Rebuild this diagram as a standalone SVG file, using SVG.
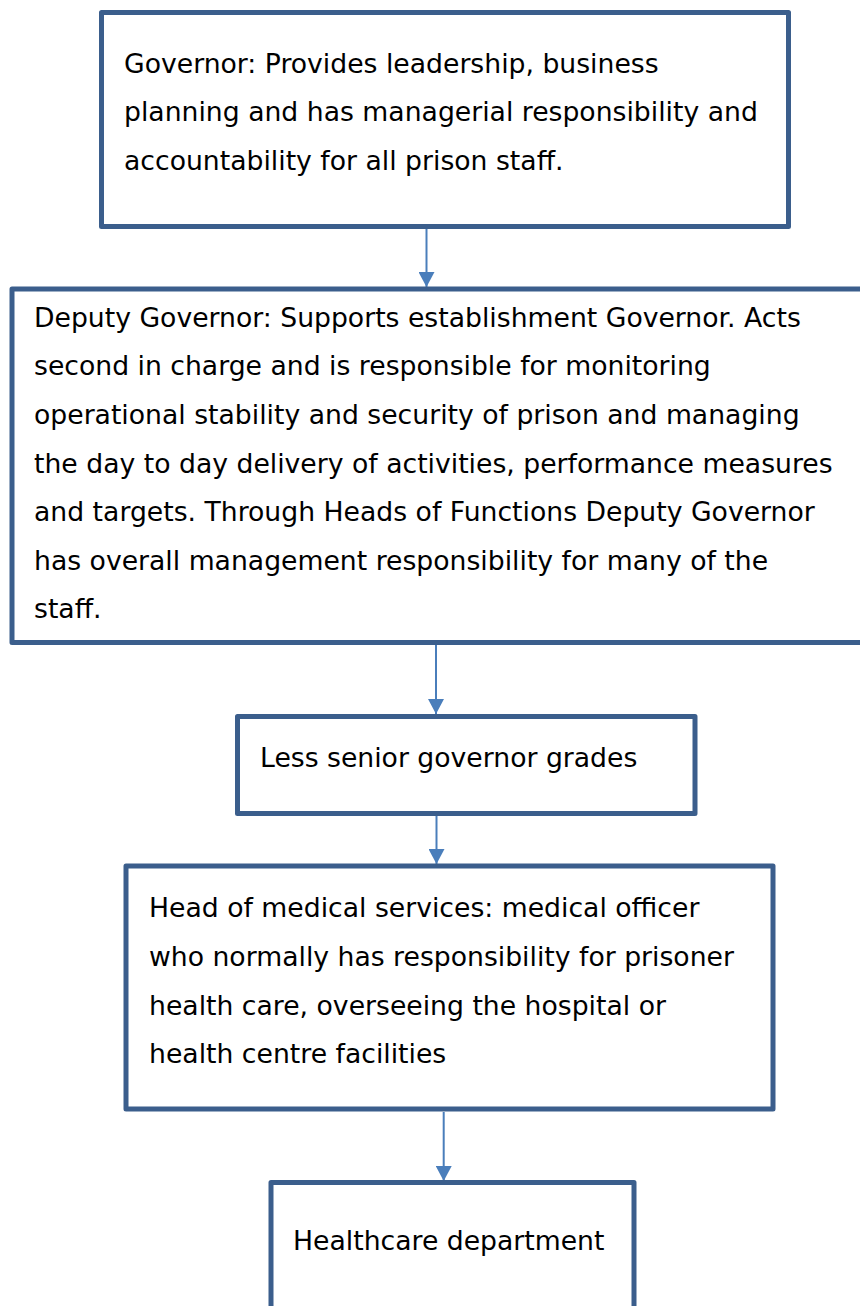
<svg xmlns="http://www.w3.org/2000/svg" width="860" height="1306" viewBox="0 0 860 1306">
<style>
.box{fill:#fff;stroke:#3B5E8C;stroke-width:5;stroke-linejoin:round}
.t{font-family:"DejaVu Sans",Verdana,sans-serif;font-size:26.67px;fill:#000}
.c{stroke:#4A7EBB;stroke-width:2;fill:none}
</style>
<defs>
<marker id="ah" markerUnits="userSpaceOnUse" markerWidth="15" markerHeight="16" refX="15" refY="8" orient="auto" viewBox="0 0 15 16">
<path d="M0,0 L15,8 L0,16 Z" fill="#4A7EBB"/>
</marker>
</defs>
<rect width="860" height="1306" fill="#fff"/>
<g id="connectors">
<line class="c" x1="426.5" y1="229" x2="426.5" y2="287" marker-end="url(#ah)"/>
<line class="c" x1="436" y1="645" x2="436" y2="714" marker-end="url(#ah)"/>
<line class="c" x1="436.5" y1="816" x2="436.5" y2="864" marker-end="url(#ah)"/>
<line class="c" x1="443.7" y1="1112" x2="443.7" y2="1181" marker-end="url(#ah)"/>
</g>
<g id="governor">
<rect class="box" x="101.5" y="12.5" width="687" height="214"/>
<text class="t" x="124" y="72.7">Governor: Provides leadership, business</text>
<text class="t" x="124" y="121.3">planning and has managerial responsibility and</text>
<text class="t" x="124" y="169.9">accountability for all prison staff.</text>
</g>
<g id="deputy-governor">
<rect class="box" x="12" y="289" width="870" height="353.5"/>
<text class="t" x="34" y="326.7">Deputy Governor: Supports establishment Governor. Acts</text>
<text class="t" x="34" y="375.3">second in charge and is responsible for monitoring</text>
<text class="t" x="34" y="423.9">operational stability and security of prison and managing</text>
<text class="t" x="34" y="472.5">the day to day delivery of activities, performance measures</text>
<text class="t" x="34" y="521.1">and targets. Through Heads of Functions Deputy Governor</text>
<text class="t" x="34" y="569.7">has overall management responsibility for many of the</text>
<text class="t" x="34" y="618.3">staff.</text>
</g>
<g id="less-senior">
<rect class="box" x="237.5" y="716.5" width="457.5" height="97"/>
<text class="t" x="260" y="766.7">Less senior governor grades</text>
</g>
<g id="head-medical">
<rect class="box" x="126" y="866" width="647" height="243"/>
<text class="t" x="149" y="917.3">Head of medical services: medical officer</text>
<text class="t" x="149" y="965.9">who normally has responsibility for prisoner</text>
<text class="t" x="149" y="1014.5">health care, overseeing the hospital or</text>
<text class="t" x="149" y="1063.1">health centre facilities</text>
</g>
<g id="healthcare">
<rect class="box" x="271" y="1182.5" width="363" height="160"/>
<text class="t" x="293" y="1250">Healthcare department</text>
</g>
</svg>
